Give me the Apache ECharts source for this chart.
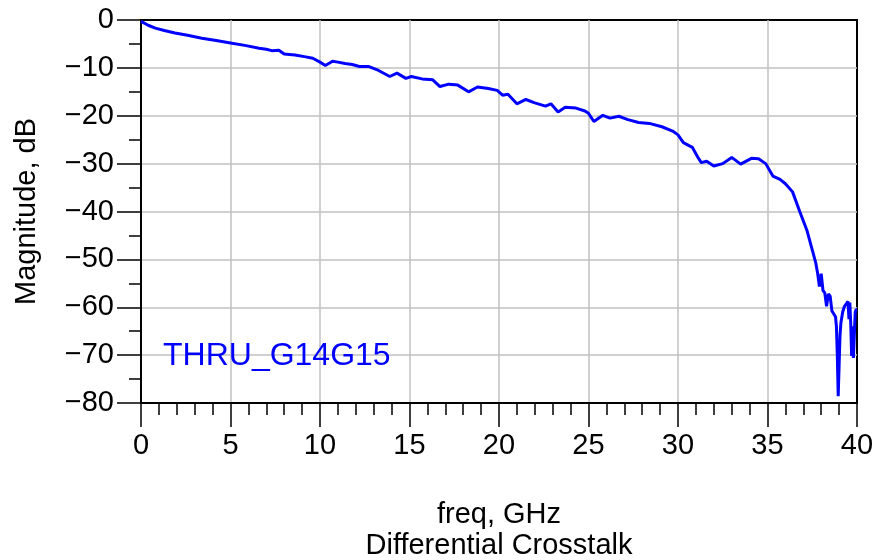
<!DOCTYPE html>
<html>
<head>
<meta charset="utf-8">
<script src="https://cdn.jsdelivr.net/npm/echarts@6/dist/echarts.min.js"></script>
<style>
  html, body { margin: 0; padding: 0; background: #fff; }
  #chart { width: 873px; height: 560px; }
</style>
</head>
<body>
<div id="chart"></div>
<script>
// frequency points (GHz)
const freq = [0, 0.1, 0.4, 0.8, 1.3, 1.9, 2.6, 3.4, 4.2, 5.0, 5.8, 6.6, 7.0, 7.3, 7.7, 8.0, 8.6, 9.2, 9.6, 10.0,
  10.3, 10.7, 11.0, 11.4, 11.8, 12.2, 12.7, 13.2, 13.4, 13.9, 14.3, 14.8, 15.1, 15.7, 16.3, 16.7, 17.2, 17.7, 18.3, 18.8,
  19.4, 19.9, 20.2, 20.5, 21.0, 21.5, 22.0, 22.6, 22.9, 23.3, 23.7, 24.3, 24.8, 25.0, 25.3, 25.8, 26.2, 26.7, 27.2, 27.8,
  28.4, 29.1, 29.7, 30.0, 30.3, 30.8, 31.1, 31.3, 31.6, 32.0, 32.5, 33.0, 33.5, 34.1, 34.5, 34.9, 35.3, 35.7, 36.0, 36.4,
  36.8, 37.2, 37.5, 37.7, 37.8, 37.9, 38.0, 38.1, 38.2, 38.3, 38.4, 38.5, 38.6, 38.7, 38.8, 38.85, 38.9, 38.95, 39.0, 39.05,
  39.1, 39.2, 39.3, 39.4, 39.5, 39.55, 39.6, 39.65, 39.7, 39.75, 39.8, 39.85, 39.9, 39.95, 40.0];

// magnitude (dB)
const mag = [-0.3, -0.6, -1.1, -1.7, -2.2, -2.7, -3.2, -3.8, -4.3, -4.8, -5.3, -5.9, -6.1, -6.4, -6.3, -7.1, -7.3, -7.7, -8.0, -8.8,
  -9.5, -8.6, -8.8, -9.1, -9.3, -9.7, -9.7, -10.4, -10.8, -11.8, -11.1, -12.2, -11.8, -12.3, -12.5, -13.9, -13.4, -13.6, -15.0, -14.0,
  -14.3, -14.7, -15.7, -15.5, -17.5, -16.6, -17.3, -18.0, -17.5, -19.2, -18.2, -18.4, -19.0, -19.5, -21.2, -19.9, -20.5, -20.1, -20.8, -21.4,
  -21.6, -22.3, -23.2, -24.0, -25.6, -26.6, -28.6, -29.8, -29.5, -30.5, -30.0, -28.7, -30.1, -28.9, -29.0, -30.0, -32.6, -33.3, -34.2, -35.9,
  -40.0, -43.9, -48.0, -50.8, -52.9, -55.7, -53.0, -56.5, -57.0, -59.8, -57.2, -57.7, -60.8, -60.5, -62.0, -64.0, -70.0, -78.6, -72.3, -66.0,
  -63.3, -61.0, -59.8, -60.2, -58.8, -62.5, -59.0, -63.3, -70.2, -64.0, -70.6, -70.2, -61.0, -60.5, -60.5];

const seriesName = 'THRU_G14G15';
const xTitle = 'freq, GHz\nDifferential Crosstalk';
const yTitle = 'Magnitude, dB';

const font = "'Liberation Sans', Arial, sans-serif";

let chart = echarts.init(document.getElementById('chart'));

let option = {
  animation: false,
  backgroundColor: '#fff',
  grid: {
    left: 141, right: 16, top: 20, bottom: 157,
    outerBoundsMode: 'none',
    containLabel: false,
    show: true,
    borderColor: '#000',
    borderWidth: 2
  },
  legend: {
    data: [{ name: seriesName, icon: 'none' }],
    left: 153, top: 335,
    itemWidth: 0,
    textStyle: { color: '#0000ff', fontSize: 32, fontFamily: font }
  },
  xAxis: {
    type: 'value',
    min: 0, max: 40, interval: 5,
    name: xTitle,
    nameLocation: 'middle',
    nameGap: 96,
    nameTextStyle: { color: '#000', fontSize: 29, fontFamily: font, lineHeight: 31 },
    axisLine: { show: true, onZero: false, lineStyle: { color: '#000', width: 2 } },
    axisTick: { show: true, length: 24, lineStyle: { color: '#000', width: 1.5 } },
    minorTick: { show: true, splitNumber: 5, length: 12, lineStyle: { color: '#000', width: 1.5 } },
    axisLabel: { color: '#000', fontSize: 29, fontFamily: font, margin: 28 },
    splitLine: { show: true, showMinLine: false, showMaxLine: false, lineStyle: { color: '#c0c0c0', width: 1.5 } }
  },
  yAxis: {
    type: 'value',
    min: -80, max: 0, interval: 10,
    name: yTitle,
    nameLocation: 'middle',
    nameGap: 100,
    nameTextStyle: { color: '#000', fontSize: 29, fontFamily: font },
    axisLine: { show: true, onZero: false, lineStyle: { color: '#000', width: 2 } },
    axisTick: { show: true, length: 24, lineStyle: { color: '#000', width: 1.5 } },
    minorTick: { show: true, splitNumber: 2, length: 12, lineStyle: { color: '#000', width: 1.5 } },
    axisLabel: {
      color: '#000', fontSize: 29, fontFamily: font, margin: 27,
      formatter: v => String(v).replace('-', '\u2212')
    },
    splitLine: { show: true, showMinLine: false, showMaxLine: false, lineStyle: { color: '#c0c0c0', width: 1.5 } }
  },
  series: [{
    name: seriesName,
    type: 'line',
    data: freq.map((f, i) => [f, mag[i]]),
    showSymbol: false,
    lineStyle: { color: '#0000ff', width: 3 },
    itemStyle: { color: '#0000ff' }
  }]
};

chart.setOption(option);
</script>
</body>
</html>
